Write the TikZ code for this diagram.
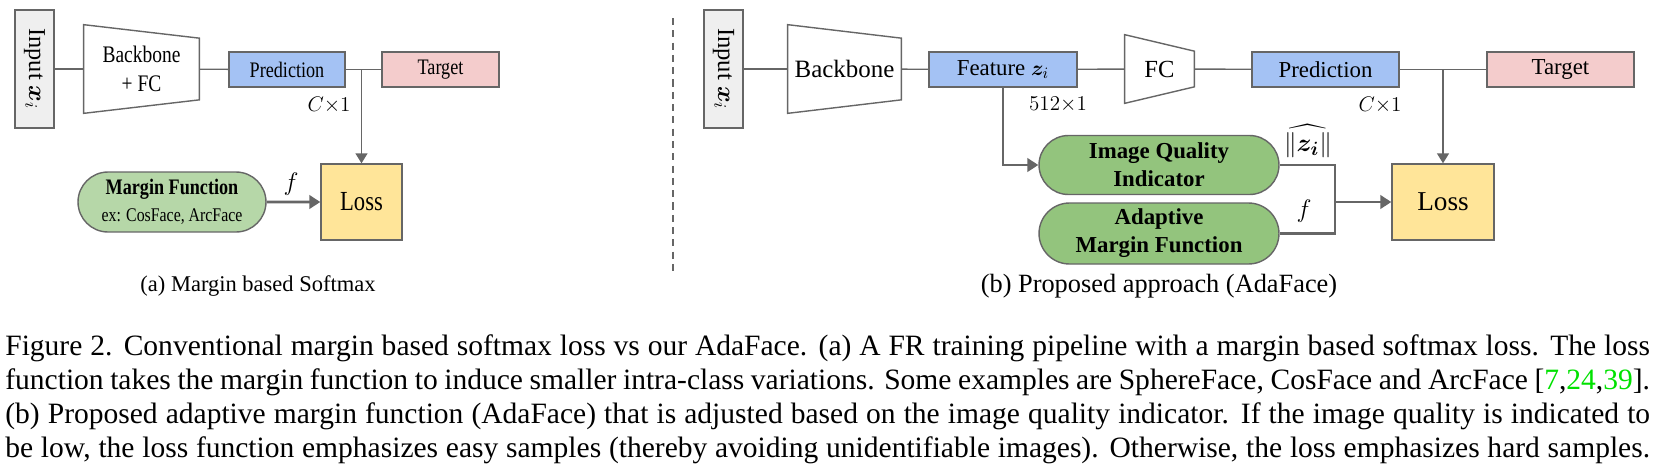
\documentclass[tikz,border=0pt]{standalone}
\usepackage{fontspec}
\setmainfont{Liberation Serif}
\newfontfamily\plainfont{Liberation Serif}
\newfontfamily\narrowfont{Liberation Serif}[FakeStretch=0.82]
\usepackage{amsmath,bm}
\usetikzlibrary{shapes.misc,arrows.meta}
\definecolor{edgegray}{HTML}{666666}
\definecolor{ingray}{HTML}{EFEFEF}
\definecolor{predblue}{HTML}{A4C2F4}
\definecolor{tgtpink}{HTML}{F4CCCC}
\definecolor{lossyellow}{HTML}{FFE599}
\definecolor{mfgreenA}{HTML}{B6D7A8}
\definecolor{mfgreenB}{HTML}{93C47D}
\definecolor{citegreen}{RGB}{0,225,0}
\tikzset{
  box/.style={draw=edgegray,line width=0.8pt,inner sep=0pt,font=\plainfont\fontsize{13}{16}\selectfont},
  inbox/.style={box,fill=ingray,rotate=-90,minimum width=2.36cm,minimum height=0.78cm,font=\plainfont\fontsize{13.8}{16.5}\selectfont},
  funnelbox/.style={inner sep=0pt,align=center,font=\plainfont\fontsize{14.2}{17}\selectfont},
  lossbox/.style={box,fill=lossyellow,minimum height=1.52cm,font=\plainfont\fontsize{15.5}{19}\selectfont},
  pill/.style={rounded rectangle,draw=edgegray,line width=0.8pt,align=center,inner sep=0pt,font=\plainfont\bfseries\fontsize{13}{16}\selectfont},
  narrow/.style={font=\narrowfont\fontsize{#1}{16.5}\selectfont},
  link/.style={draw=edgegray,line width=0.8pt},
  feed/.style={link,-{Triangle[length=0.2cm,width=0.24cm]}},
  bar/.style={draw=edgegray,line width=1.6pt},
  thickfeed/.style={bar,-{Triangle[length=0.22cm,width=0.27cm]}},
  lbl/.style={inner sep=0pt,font=\fontsize{15}{18}\selectfont},
  dim/.style={inner sep=0pt,font=\fontsize{12.5}{15}\selectfont},
  sub/.style={inner sep=0pt,font=\plainfont\fontsize{15}{18}\selectfont},
  capline/.style={inner sep=0pt,anchor=base west,font=\plainfont\fontsize{16.8}{19.7}\selectfont}
}
\newcommand\funnel[2]{\draw[link] (#1.north west) -- ([yshift=-#2]#1.north east) -- ([yshift=#2]#1.south east) -- (#1.south west) -- cycle;}
\begin{document}
\begin{tikzpicture}[x=0.02cm,y=-0.02cm]
    \useasboundingbox (0,0) rectangle (1657,467);
    \node[inbox] (inA) at (34.5,69) {Input $\bm{x}_i$};
    \node[funnelbox,narrow=13.5,minimum width=2.3cm,minimum height=1.76cm] (bbA) at (141.5,69) {Backbone\\+ FC};
    \node[box,narrow=12.6,fill=predblue,minimum width=2.32cm,minimum height=0.7cm] (predA) at (287,69.5) {Prediction};
    \node[box,narrow=12.6,fill=tgtpink,minimum width=2.34cm,minimum height=0.7cm] (tgtA) at (440.5,69.5) {Target};
    \node[lossbox,narrow=15.7,minimum width=1.62cm] (lossA) at (361.5,202) {Loss};
    \node[pill,fill=mfgreenA,minimum width=3.76cm,minimum height=1.2cm,font=\narrowfont\bfseries\fontsize{12.6}{15.5}\selectfont] (mfA) at (172,202) {Margin Function\\{\mdseries\fontsize{11}{13}\selectfont ex: CosFace, ArcFace}};
    \funnel{bbA}{0.27cm}
    \draw[link] (inA) -- (bbA);
    \draw[link] (bbA) -- (predA);
    \draw[link] (predA) -- (tgtA);
    \draw[feed] (predA -| lossA) -- (lossA);
    \draw[thickfeed] (mfA) -- (lossA);
    \node[lbl] (fA) at (291,184) {$f$};
    \node[dim] (dimA) at (329,105) {$C{\times}1$};
    \node[sub,font=\plainfont\fontsize{12.8}{15}\selectfont] (subA) at (258,286) {(a) Margin based Softmax};
    \draw[edgegray,line width=1.1pt,dash pattern=on 4pt off 3pt] (673,18) -- (673,273);
    \node[inbox,font=\plainfont\fontsize{14}{16.5}\selectfont] (inB) at (723.5,69) {Input $\bm{x}_i$};
    \node[funnelbox,minimum width=2.26cm,minimum height=1.76cm] (bbB) at (844.5,69) {Backbone};
    \node[box,fill=predblue,minimum width=2.96cm,minimum height=0.7cm] (featB) at (1003,69.5) {Feature $\bm{z}_i$};
    \node[funnelbox,font=\plainfont\fontsize{14}{17}\selectfont,minimum width=1.38cm,minimum height=1.36cm] (fcB) at (1159.5,69) {FC};
    \node[box,fill=predblue,minimum width=2.94cm,minimum height=0.7cm] (predB) at (1325.5,69.5) {Prediction};
    \node[box,fill=tgtpink,minimum width=2.94cm,minimum height=0.7cm] (tgtB) at (1560.5,69.5) {Target};
    \node[lossbox,minimum width=2.04cm] (lossB) at (1443,202) {Loss};
    \node[pill,fill=mfgreenB,minimum width=4.8cm,minimum height=1.18cm] (iqB) at (1159,165) {Image Quality\\Indicator};
    \node[pill,fill=mfgreenB,minimum width=4.8cm,minimum height=1.22cm] (amfB) at (1159,233.5) {Adaptive\\Margin Function};
    \coordinate (mrg) at (1335,202);
    \funnel{bbB}{0.27cm}
    \funnel{fcB}{0.33cm}
    \draw[link] (inB) -- (bbB);
    \draw[link] (bbB) -- (featB);
    \draw[link] (featB) -- (fcB);
    \draw[link] (fcB) -- (predB);
    \draw[link] (predB) -- (tgtB);
    \draw[feed] (predB -| lossB) -- (lossB);
    \draw[thickfeed] (featB) |- (iqB);
    \draw[bar] (iqB) -| (mrg) |- (amfB);
    \draw[thickfeed] (mrg) -- (lossB);
    \node[lbl] (normB) at (1308,141) {$\widehat{\|\bm{z_i}\|}$};
    \node[lbl] (fB) at (1304,211) {$f$};
    \node[dim] (dimfB) at (1058,105) {$512{\times}1$};
    \node[dim] (dimB) at (1380,105) {$C{\times}1$};
    \node[sub] (subB) at (1159,286) {(b) Proposed approach (AdaFace)};
    \node[capline] (cap1) at (5,355) {\makebox[32.9cm][s]{Figure 2. Conventional margin based softmax loss vs our AdaFace. (a) A FR training pipeline with a margin based softmax loss. The loss}};
    \node[capline] (cap2) at (5,389) {\makebox[32.9cm][s]{function takes the margin function to induce smaller intra-class variations. Some examples are SphereFace, CosFace and ArcFace [\textcolor{citegreen}{7},\textcolor{citegreen}{24},\textcolor{citegreen}{39}].}};
    \node[capline] (cap3) at (5,423) {\makebox[32.9cm][s]{(b) Proposed adaptive margin function (AdaFace) that is adjusted based on the image quality indicator. If the image quality is indicated to}};
    \node[capline] (cap4) at (5,457) {\makebox[32.9cm][s]{be low, the loss function emphasizes easy samples (thereby avoiding unidentifiable images). Otherwise, the loss emphasizes hard samples.}};
\end{tikzpicture}
\end{document}
